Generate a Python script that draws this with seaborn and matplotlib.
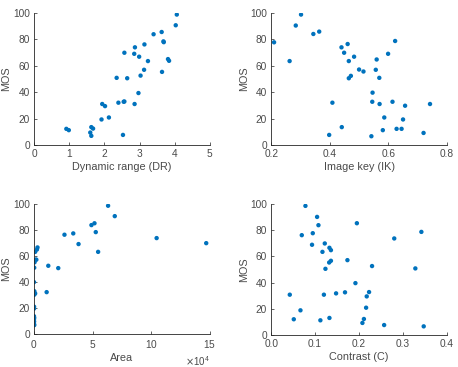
import numpy as np
import pandas as pd
import seaborn as sns
import matplotlib.pyplot as plt
from matplotlib.ticker import ScalarFormatter

# dynamic range vs MOS
dr_x = [0.92, 0.99, 1.60, 1.63, 1.63, 1.68, 1.92, 1.94, 2.02, 2.13, 2.35, 2.40, 2.55, 2.57,
        2.53, 2.57, 2.65, 2.86, 2.87, 2.85, 2.97, 2.99, 3.03, 3.13, 3.14, 3.24, 3.40, 3.63,
        3.64, 3.68, 3.69, 3.81, 3.84, 4.03, 4.06]
dr_y = [12.2, 11.2, 9.4, 6.9, 13.5, 12.4, 19.3, 31.0, 29.4, 20.8, 50.8, 32.0, 32.7, 32.9,
        7.6, 69.8, 50.5, 31.0, 73.9, 69.0, 39.3, 66.8, 52.5, 56.9, 76.1, 63.5, 83.8, 85.5,
        55.3, 78.4, 77.8, 65.0, 63.7, 90.6, 98.7]

# image key vs MOS
ik_x = [0.210, 0.263, 0.284, 0.302, 0.344, 0.364, 0.409, 0.398, 0.441, 0.440, 0.449, 0.461,
        0.465, 0.483, 0.465, 0.472, 0.500, 0.515, 0.545, 0.546, 0.542, 0.557, 0.560, 0.569,
        0.570, 0.581, 0.586, 0.599, 0.614, 0.623, 0.628, 0.645, 0.650, 0.657, 0.720, 0.742]
ik_y = [77.7, 63.5, 90.4, 98.7, 84.0, 85.8, 32.0, 7.6, 13.5, 73.9, 69.8, 76.4,
        63.5, 66.8, 50.5, 52.3, 57.1, 55.6, 32.7, 39.6, 6.6, 56.9, 64.7, 50.8,
        31.0, 11.2, 20.8, 69.0, 32.7, 78.7, 12.2, 12.2, 19.3, 29.7, 9.1, 31.0]

# area vs MOS
area_x = [63200, 68900, 51600, 49000, 52700, 33500, 26000, 104600, 146900, 38000, 54700,
          12200, 20700, 10800,
          3000, 2500, 1000, 2000, 1400, 500, 200, 0, 300, 1000, 200, 100, 0, 0, 0,
          100, 0, 100, 0, 0, 200]
area_y = [98.5, 90.5, 85.0, 83.6, 78.2, 77.2, 76.2, 73.6, 69.7, 69.0, 63.0,
          52.3, 50.5, 32.0,
          66.4, 64.8, 63.0, 57.0, 57.0, 55.0, 50.8, 39.7, 32.7, 31.0, 30.0, 20.8, 19.3, 13.5, 12.4,
          12.2, 11.2, 9.4, 7.6, 6.9, 6.6]

# contrast vs MOS
c_x = [0.078, 0.1045, 0.1076, 0.0947, 0.0697, 0.093, 0.122, 0.1167, 0.1326, 0.136, 0.132,
       0.136, 0.1235, 0.1735, 0.195, 0.2295, 0.280, 0.3417, 0.328, 0.1917, 0.0424, 0.120,
       0.1477, 0.168, 0.2227, 0.2174, 0.216, 0.0667, 0.0515, 0.112, 0.1326, 0.211, 0.2076,
       0.257, 0.347]
c_y = [98.5, 90.1, 83.8, 77.7, 76.2, 68.9, 69.9, 63.5, 66.6, 64.8, 55.4,
       56.7, 50.6, 57.2, 85.3, 52.7, 73.7, 78.7, 50.9, 39.7, 30.9, 30.9,
       31.9, 32.7, 32.9, 29.6, 21.0, 19.0, 12.2, 11.4, 13.2, 12.4, 9.4,
       7.8, 6.8]

sns.set_style('ticks')
plt.rcParams['font.family'] = ['Liberation Sans', 'DejaVu Sans']
plt.rcParams['xtick.direction'] = 'in'
plt.rcParams['ytick.direction'] = 'in'

txt = '#4a4a4a'
blue = '#0072BD'

fig = plt.figure(figsize=(4.58, 3.67), dpi=100)
boxes = [[0.0742, 0.605, 0.384, 0.360],
         [0.592, 0.605, 0.384, 0.360],
         [0.0742, 0.0907, 0.384, 0.354],
         [0.592, 0.0864, 0.384, 0.358]]
panels = [(dr_x, dr_y, 'Dynamic range (DR)', (0, 5), [0, 1, 2, 3, 4, 5]),
          (ik_x, ik_y, 'Image key (IK)', (0.2, 0.8), [0.2, 0.4, 0.6, 0.8]),
          (area_x, area_y, 'Area', (0, 150000), [0, 50000, 100000, 150000]),
          (c_x, c_y, 'Contrast (C)', (0, 0.4), [0, 0.1, 0.2, 0.3, 0.4])]

for box, (xs, ys, xlabel, xlim, xticks) in zip(boxes, panels):
    ax = fig.add_axes(box)
    df = pd.DataFrame({'x': xs, 'MOS': ys})
    sns.scatterplot(data=df, x='x', y='MOS', ax=ax, color=blue, s=10,
                    edgecolor='none', linewidth=0)
    ax.set_xlim(xlim)
    ax.set_ylim(0, 100)
    ax.set_xticks(xticks)
    ax.set_yticks([0, 20, 40, 60, 80, 100])
    ax.set_xlabel(xlabel, fontsize=7.8, color=txt, labelpad=2)
    ax.set_ylabel('MOS', fontsize=7.8, color=txt, labelpad=1)
    ax.tick_params(labelsize=7.3, colors=txt, length=2.5, width=0.6)
    ax.tick_params(axis='x', pad=3)
    ax.tick_params(axis='y', pad=3)
    for s in ['left', 'bottom']:
        ax.spines[s].set_color('#262626')
        ax.spines[s].set_linewidth(0.6)
    sns.despine(ax=ax)
    if xlabel == 'Area':
        fmt = ScalarFormatter(useMathText=True)
        fmt.set_powerlimits((4, 4))
        ax.xaxis.set_major_formatter(fmt)
        ax.xaxis.get_offset_text().set_fontsize(7)
        ax.xaxis.get_offset_text().set_color(txt)

fig.savefig('out.png', dpi=100)
